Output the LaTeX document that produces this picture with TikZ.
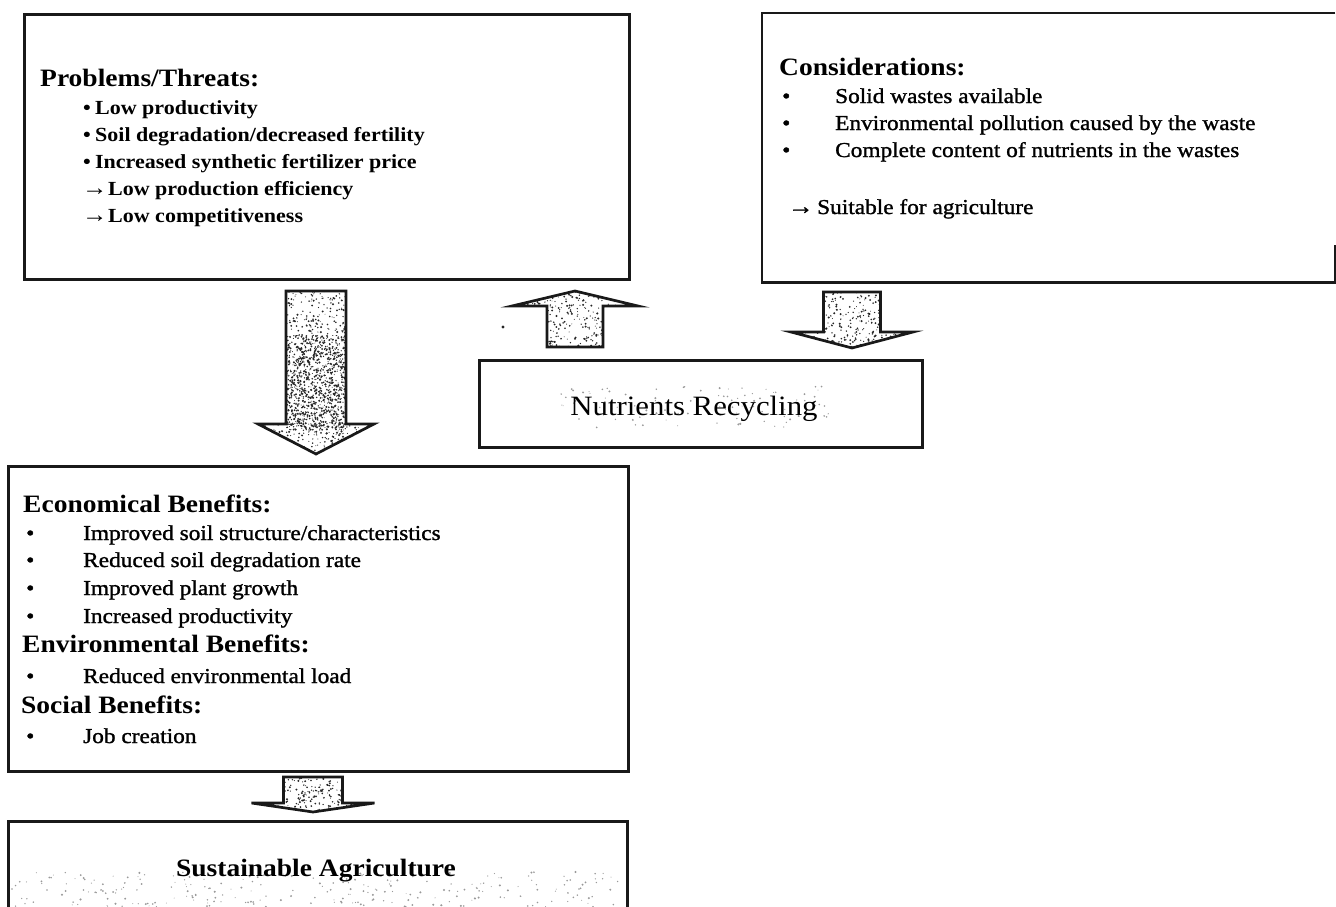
\documentclass[tikz,border=0pt]{standalone}
\usepackage{fontspec}
\setmainfont{Liberation Serif}[FakeStretch=1.1]
\newfontfamily\itemfamily{Liberation Serif}[FakeStretch=1.1, FakeBold=1.2]
\newcommand\headfont{\fontsize{25}{25}\selectfont\bfseries}
\newcommand\probfont{\fontsize{20}{20}\selectfont\bfseries}
\newcommand\itemfont{\itemfamily\fontsize{21.2}{21.2}\selectfont}
\newcommand\arr{{\fontsize{23}{23}\selectfont\bfseries →}}
\tikzset{
  box/.style={draw=black!90, line width=2.9pt, inner sep=0pt, fill=white},
  framebox/.style={inner sep=0pt},
  edge/.style={draw=black!90, line width=2.9pt},
  arrowline/.style={draw=black!90, line width=2.7pt, line join=miter},
  speck/.style={fill=black!85},
  lightspeck/.style={fill=black!40},
  head/.style={anchor=base west, inner sep=0pt, font=\headfont},
  probitem/.style={anchor=base west, inner sep=0pt, font=\probfont},
  item/.style={anchor=base west, inner sep=0pt, font=\itemfont},
}
% scatter #6 dots in the rectangle (#2,#3)--(#4,#5)
\newcommand\speckle[6][speck]{%
  \foreach \k in {1,...,#6}{%
    \pgfmathsetmacro\px{(#2)+rnd*((#4)-(#2))}%
    \pgfmathsetmacro\py{(#3)+rnd*((#5)-(#3))}%
    \pgfmathsetmacro\pr{0.45+0.7*rnd}%
    \fill[#1] (\px,\py) circle (\pr pt);
  }}
% block arrow outline: centre x, shaft end y, head base y, tip y, shaft half width, head half width
\newcommand\arrowpath[6]{(#1-#5,#2) -- (#1+#5,#2) -- (#1+#5,#3) -- (#1+#6,#3) -- (#1,#4)
          -- (#1-#6,#3) -- (#1-#5,#3) -- cycle}
% grain inside a block arrow (same arguments, then number of dots)
\newcommand\blockarrow[7]{%
  \begin{scope}
    \clip \arrowpath{#1}{#2}{#3}{#4}{#5}{#6};
    \speckle{#1-#6}{#2}{#1+#6}{#4}{#7}
  \end{scope}
}
\begin{document}
\begin{tikzpicture}[x=1pt,y=-1pt]
\useasboundingbox (0,0) rectangle (1336,907);
\clip (0,0) rectangle (1336,907);
\fill[white] (0,0) rectangle (1336,907);
\pgfmathsetseed{4711}

% ---------- boxes ----------
\node[box, anchor=north west, minimum width=605pt, minimum height=265pt] (prob) at (23,13) {};
\node[framebox, anchor=north west, minimum width=573pt, minimum height=269pt] (cons) at (762,13) {};
\draw[edge] (cons.north east) -- (cons.north west) -- (cons.south west) -- (cons.south east) -- ++(0,-37);
\node[box, anchor=north west, minimum width=443pt, minimum height=87pt] (nutr) at (478,359) {};
\node[box, anchor=north west, minimum width=620pt, minimum height=305pt] (ben) at (7,465) {};
\node[box, anchor=north west, minimum width=619pt, minimum height=110pt] (sust) at (7,820) {};

% ---------- block arrows ----------
% problems -> benefits (denser grain in the middle of the shaft)
\blockarrow{316}{291}{424}{454}{30}{58}{1250}
\begin{scope}
  \clip (286,335) rectangle (346,430);
  \speckle{286}{335}{346}{430}{700}
\end{scope}
\draw[arrowline] \arrowpath{316}{291}{424}{454}{30}{58};
% recycling -> problems
\blockarrow{575}{347}{306}{291}{28}{63}{380}
\draw[arrowline] \arrowpath{575}{347}{306}{291}{28}{63};
% considerations -> recycling
\blockarrow{852}{292}{332}{348}{28.5}{61}{370}
\draw[arrowline] \arrowpath{852}{292}{332}{348}{28.5}{61};
% benefits -> sustainable agriculture
\blockarrow{313}{777}{803}{812}{29.5}{61.5}{280}
\draw[arrowline] \arrowpath{313}{777}{803}{812}{29.5}{61.5};
\fill[black!85] (503,327) circle (1.6pt);

% light grain in the lower boxes
\begin{scope}
  \clip (nutr.north west) rectangle (nutr.south east);
  \speckle[lightspeck]{560}{386}{830}{428}{110}
\end{scope}
\begin{scope}
  \clip (sust.north west) rectangle (sust.south east);
  \speckle[lightspeck]{12}{872}{622}{907}{260}
\end{scope}

% ---------- Problems/Threats ----------
\node[head] (probh) at (40,87) {Problems/Threats:};
\node[probitem] (p1) at (83,114) {\makebox[12pt][l]{•}Low productivity};
\node[probitem] (p2) at (83,141) {\makebox[12pt][l]{•}Soil degradation/decreased fertility};
\node[probitem] (p3) at (83,168) {\makebox[12pt][l]{•}Increased synthetic fertilizer price};
\node[probitem] (p4) at (82,195) {\makebox[26pt][l]{\arr}Low production efficiency};
\node[probitem] (p5) at (82,222) {\makebox[26pt][l]{\arr}Low competitiveness};

% ---------- Considerations ----------
\node[head] (consh) at (779,75) {Considerations:};
\node[item] (c1) at (782,103) {\makebox[53pt][l]{•}Solid wastes available};
\node[item] (c2) at (782,130) {\makebox[53pt][l]{•}Environmental pollution caused by the waste};
\node[item] (c3) at (782,157) {\makebox[53pt][l]{•}Complete content of nutrients in the wastes};
\node[item] (c4) at (788,214) {\makebox[29pt][l]{\arr}Suitable for agriculture};

% ---------- Nutrients Recycling ----------
\node[anchor=base, inner sep=0pt, font=\fontsize{28}{28}\selectfont] (nutrt) at (694,415) {Nutrients Recycling};

% ---------- Benefits ----------
\node[head] (eco) at (23,512) {Economical Benefits:};
\node[item] (e1) at (26,540) {\makebox[57pt][l]{•}Improved soil structure/characteristics};
\node[item] (e2) at (26,567) {\makebox[57pt][l]{•}Reduced soil degradation rate};
\node[item] (e3) at (26,595) {\makebox[57pt][l]{•}Improved plant growth};
\node[item] (e4) at (26,623) {\makebox[57pt][l]{•}Increased productivity};
\node[head] (env) at (22,652) {Environmental Benefits:};
\node[item] (v1) at (26,683) {\makebox[57pt][l]{•}Reduced environmental load};
\node[head] (soc) at (21,713) {Social Benefits:};
\node[item] (s1) at (26,743) {\makebox[57pt][l]{•}Job creation};

% ---------- Sustainable Agriculture ----------
\node[anchor=base, inner sep=0pt, font=\headfont] (sustt) at (316,876) {Sustainable Agriculture};
\end{tikzpicture}
\end{document}
